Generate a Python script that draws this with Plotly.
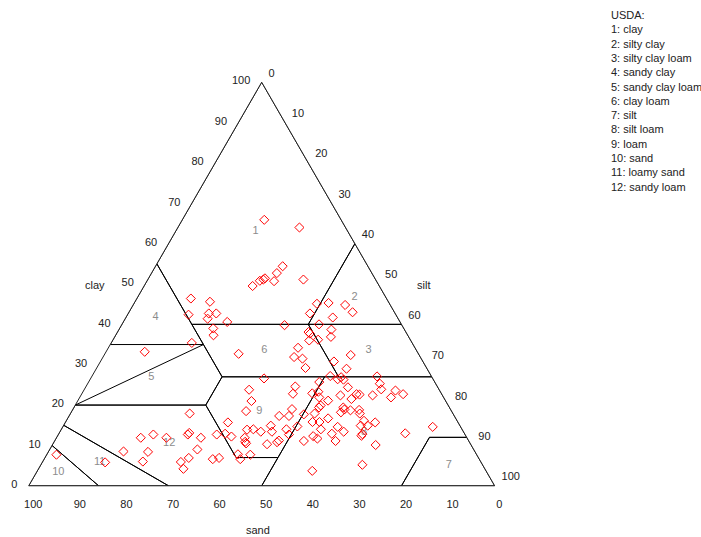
import plotly.graph_objects as go

# ---- sample data (percent) ----
clay = [65.9, 64.0, 54.4, 52.7, 51.4, 51.1, 50.8, 49.5, 50.7, 51.1,
        46.4, 45.6, 42.4, 42.7, 42.7, 41.4, 40.6, 39.8, 39.0, 37.3,
        45.1, 45.3, 44.8, 43.0, 41.7, 42.7, 40.0, 38.7, 38.1, 37.7,
        36.9, 35.4, 33.2, 32.7, 36.0, 34.2, 31.9, 31.5, 29.2, 30.8,
        32.4, 29.0, 26.6, 27.2, 26.4, 26.9, 26.3, 27.1, 25.3, 23.9,
        24.6, 22.8, 23.8, 21.0, 22.9, 23.3, 21.9, 21.1, 22.4, 24.4,
        21.5, 22.7, 22.6, 22.4, 19.9, 19.4, 19.4, 18.2, 18.9, 18.7,
        18.8, 17.9, 18.5, 19.0, 17.3, 17.3, 17.7, 17.9, 15.8, 15.8,
        16.7, 14.6, 13.4, 12.9, 14.0, 12.3, 11.1, 16.1, 14.9, 14.9,
        12.8, 12.4, 17.9, 15.7, 13.9, 14.0, 13.4, 14.9, 13.4, 14.0,
        12.7, 14.7, 12.9, 12.7, 12.2, 12.7, 13.1, 11.9, 11.9, 10.9,
        10.5, 10.3, 10.8, 11.2, 12.7, 11.9, 11.9, 9.0, 6.9, 5.9,
        8.4, 6.0, 6.6, 6.9, 7.8, 6.6, 7.7, 5.2, 23.6, 21.9,
        22.7, 15.7, 13.0, 14.6, 10.1, 7.7, 5.8, 8.5, 4.2, 11.7,
        11.1, 3.7, 36.2, 25.7]
silt = [17.6, 26.1, 27.3, 26.9, 25.0, 24.8, 24.2, 23.3, 27.3, 33.4,
        11.6, 16.1, 13.1, 17.3, 18.9, 17.7, 22.3, 35.0, 20.1, 21.0,
        39.3, 41.7, 45.5, 48.0, 44.4, 39.0, 42.3, 45.6, 41.0, 41.5,
        46.4, 17.3, 8.3, 28.7, 42.2, 40.7, 41.0, 43.0, 44.8, 50.1,
        52.9, 53.7, 37.2, 51.1, 53.1, 53.6, 54.4, 61.2, 62.7, 63.7,
        44.9, 45.3, 35.4, 37.3, 49.4, 50.5, 51.4, 53.7, 55.7, 56.3,
        58.5, 59.0, 59.7, 62.6, 52.7, 52.6, 57.8, 57.9, 58.3, 59.7,
        61.5, 62.1, 37.4, 47.0, 47.2, 45.1, 50.2, 52.4, 53.0, 54.5,
        55.9, 59.0, 60.9, 58.6, 55.7, 54.9, 53.5, 63.9, 63.8, 65.3,
        65.2, 65.2, 25.6, 34.9, 39.9, 41.2, 43.1, 44.5, 45.5, 48.3,
        49.5, 50.3, 35.7, 34.0, 37.4, 27.8, 27.9, 31.0, 40.4, 41.0,
        41.4, 46.0, 47.9, 48.1, 20.4, 23.6, 18.1, 31.7, 30.9, 29.7,
        21.4, 21.5, 36.2, 37.4, 41.0, 42.1, 43.7, 69.0, 66.9, 66.8,
        69.0, 66.5, 74.3, 79.4, 69.4, 2.1, 13.5, 16.1, 31.1, 56.1,
        60.3, 59.0, 44.0, 49.5]
sand = [round(100 - c - s, 1) for c, s in zip(clay, silt)]

# ---- USDA texture classes: boundary vertices (clay, silt; sand = rest) ----
zone_names = ["clay", "silty clay", "silty clay loam", "sandy clay", "sandy clay loam",
              "clay loam", "silt", "silt loam", "loam", "sand", "loamy sand", "sandy loam"]
zone_clay = [
    [100, 60, 40, 40, 55, 100],
    [60, 40, 40, 60],
    [40, 27, 27, 40, 40],
    [55, 35, 35, 40, 55],
    [35, 20, 20, 27, 35, 35],
    [40, 27, 27, 35, 40, 40],
    [12, 0, 0, 12, 12],
    [27, 12, 12, 0, 0, 7, 27, 27],
    [27, 27, 20, 7, 7, 27],
    [10, 0, 0, 10],
    [15, 10, 0, 0, 15],
    [20, 15, 0, 0, 7, 7, 20, 20],
]
zone_silt = [
    [0, 40, 40, 15, 0, 0],
    [40, 60, 40, 40],
    [60, 73, 53, 40, 60],
    [0, 0, 20, 15, 0],
    [20, 0, 28, 28, 20, 20],
    [40, 53, 28, 20, 15, 40],
    [88, 100, 80, 80, 88],
    [73, 88, 80, 80, 50, 50, 50, 73],
    [50, 28, 28, 41, 50, 50],
    [0, 0, 15, 0],
    [0, 0, 15, 30, 0],
    [0, 0, 30, 50, 50, 41, 28, 0],
]
zone_label_clay = [63.0, 46.7, 33.5, 41.8, 27.0, 33.5, 5.1, 13.3, 18.4, 3.3, 5.9, 10.5]
zone_label_silt = [17.2, 46.6, 56.2, 6.3, 12.8, 33.8, 87.6, 65.3, 40.3, 4.7, 12.3, 24.9]
zone_label_text = [str(i + 1) for i in range(12)]

tick_vals = [0, 10, 20, 30, 40, 50, 60, 70, 80, 90, 100]

FONT = "Liberation Sans, Arial, sans-serif"

fig = go.Figure()

for zc, zs in zip(zone_clay, zone_silt):
    fig.add_trace(go.Scatterternary(
        a=zc, b=[100 - c - s for c, s in zip(zc, zs)], c=zs,
        mode="lines", line=dict(color="black", width=1),
        hoverinfo="skip", showlegend=False))

fig.add_trace(go.Scatterternary(
    a=zone_label_clay,
    b=[100 - c - s for c, s in zip(zone_label_clay, zone_label_silt)],
    c=zone_label_silt, mode="text", text=zone_label_text,
    textfont=dict(color="#8c8c8c", size=11, family=FONT),
    hoverinfo="skip", showlegend=False))

fig.add_trace(go.Scatterternary(
    a=clay, b=sand, c=silt, mode="markers",
    marker=dict(symbol="diamond-open", size=7, color="red",
                line=dict(color="red", width=1)),
    showlegend=False))

axis_common = dict(
    tickvals=tick_vals, ticktext=[str(v) for v in tick_vals],
    ticks="outside", ticklen=9, tickcolor="rgba(0,0,0,0)",
    showgrid=False, showline=True, linecolor="#222", linewidth=1,
    tickfont=dict(size=11, color="#222", family=FONT),
    title=dict(text=""), min=0,
)

fig.update_layout(
    width=701, height=537,
    margin=dict(l=0, r=0, t=0, b=0),
    paper_bgcolor="white",
    ternary=dict(
        sum=100,
        bgcolor="white",
        domain=dict(x=[28.7 / 701, 494.7 / 701], y=[51.2 / 537, 454.8 / 537]),
        aaxis=axis_common,
        baxis=axis_common,
        caxis=axis_common,
    ),
    annotations=[
        dict(text="clay", x=95 / 701, y=1 - 285 / 537, xref="paper", yref="paper",
             xanchor="center", yanchor="middle",
             showarrow=False, font=dict(size=11, color="#222", family=FONT)),
        dict(text="silt", x=423 / 701, y=1 - 285 / 537, xref="paper", yref="paper",
             xanchor="center", yanchor="middle",
             showarrow=False, font=dict(size=11, color="#222", family=FONT)),
        dict(text="sand", x=258 / 701, y=1 - 530 / 537, xref="paper", yref="paper",
             xanchor="center", yanchor="middle",
             showarrow=False, font=dict(size=11, color="#222", family=FONT)),
        dict(text="USDA:<br>" + "<br>".join(f"{i + 1}: {n}" for i, n in enumerate(zone_names)),
             x=609 / 701, y=1 - 7 / 537, xref="paper", yref="paper",
             xanchor="left", yanchor="top", align="left", showarrow=False,
             font=dict(size=11, color="#222", family=FONT)),
    ],
)

fig.write_html("out.html", config={"displayModeBar": False},
               post_script="document.body.style.margin='0';document.body.style.overflow='hidden';")
